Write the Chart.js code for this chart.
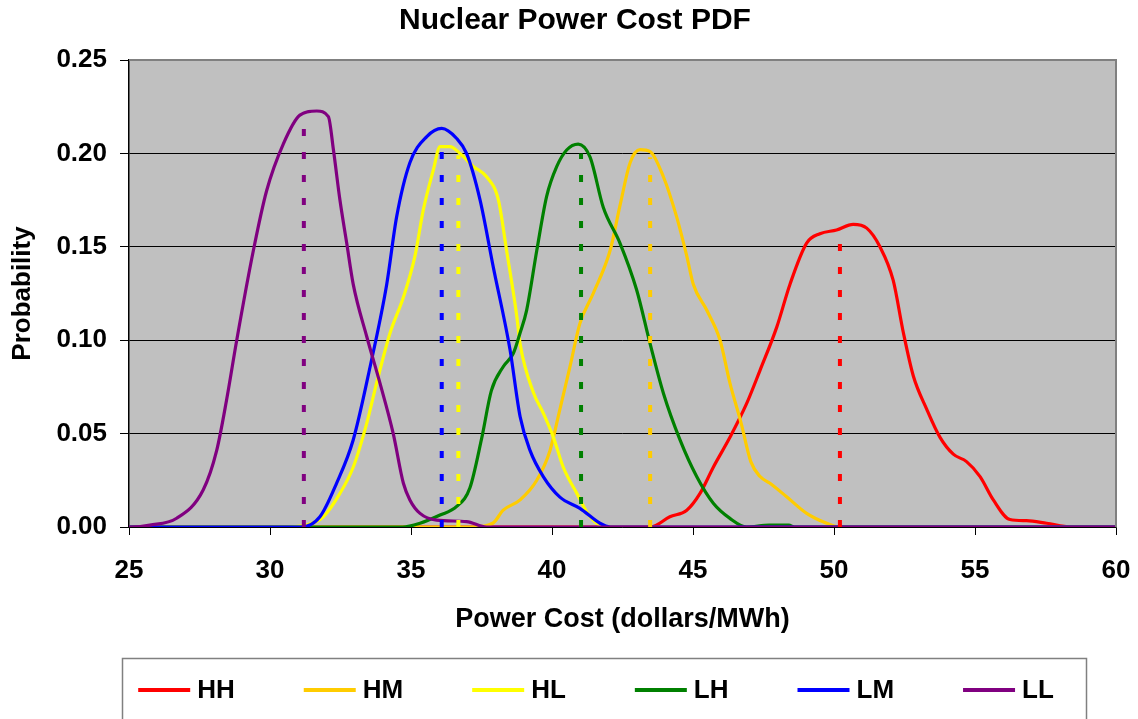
<!DOCTYPE html>
<html>
<head>
<meta charset="utf-8">
<title>Nuclear Power Cost PDF</title>
<script src="https://cdn.jsdelivr.net/npm/chart.js@4.4.1/dist/chart.umd.min.js"></script>
<style>
  html, body { margin: 0; padding: 0; background: #fff; }
  canvas { display: block; }
</style>
</head>
<body>
<canvas id="pdfChart" width="1138" height="719"></canvas>
<script>
// ------------------------------------------------------------
// data: cost ($/MWh) vs probability, one list per scenario
// ------------------------------------------------------------
var seriesNames = ['HH', 'HM', 'HL', 'LH', 'LM', 'LL'];
var seriesColors = ['#ff0000', '#ffcc00', '#ffff00', '#008000', '#0000ff', '#800080'];

var HH = [[25, 0], [43.5, 0], [44.18, 0.0055], [44.78, 0.009], [45.25, 0.018], [45.72, 0.032], [46.31, 0.048],
  [46.9, 0.066], [47.38, 0.084], [47.97, 0.107], [48.44, 0.130], [49.03, 0.152], [49.5, 0.157], [50.09, 0.159],
  [50.68, 0.162], [51.16, 0.160], [51.63, 0.150], [52.1, 0.132], [52.46, 0.104], [52.81, 0.081], [53.29, 0.063],
  [53.76, 0.048], [54.23, 0.039], [54.7, 0.035], [55.18, 0.027], [55.65, 0.0145], [56.24, 0.004], [56.83, 0.0034],
  [57.54, 0.002], [58.4, 0], [60, 0]];
var HM = [[25, 0], [37.2, 0], [37.9, 0.002], [38.27, 0.009], [38.87, 0.0145], [39.46, 0.025], [39.93, 0.041],
  [40.28, 0.063], [40.64, 0.086], [40.99, 0.109], [41.46, 0.125], [42.06, 0.148], [42.41, 0.172], [42.77, 0.195],
  [43.12, 0.202], [43.48, 0.201], [43.95, 0.1875], [44.42, 0.166], [44.78, 0.145], [45.01, 0.130], [45.49, 0.116],
  [45.96, 0.100], [46.31, 0.077], [46.7, 0.056], [47.05, 0.035], [47.38, 0.027], [47.73, 0.0234], [48.32, 0.0162],
  [49.03, 0.0073], [49.74, 0.002], [50.2, 0], [60, 0]];
var HL = [[25, 0], [30.6, 0], [31.3, 0.001], [31.89, 0.0055], [32.48, 0.018], [32.95, 0.032], [33.43, 0.0555],
  [33.78, 0.077], [34.26, 0.104], [34.73, 0.123], [35.14, 0.145], [35.44, 0.170], [35.79, 0.191], [36.03, 0.2036],
  [36.38, 0.2036], [36.74, 0.200], [37.21, 0.193], [37.68, 0.1875], [38.1, 0.175], [38.39, 0.148], [38.75, 0.113],
  [38.87, 0.098], [39.34, 0.072], [39.69, 0.061], [40.05, 0.048], [40.4, 0.032], [40.88, 0.018], [41.35, 0.0055],
  [41.94, 0], [60, 0]];
var LH = [[25, 0], [34.7, 0], [35.32, 0.002], [36.03, 0.0064], [36.62, 0.011], [37.09, 0.021], [37.5, 0.047],
  [37.85, 0.073], [38.27, 0.0858], [38.63, 0.093], [38.87, 0.104], [39.1, 0.116], [39.46, 0.148], [39.81, 0.177],
  [40.17, 0.193], [40.52, 0.2018], [40.93, 0.205], [41.35, 0.198], [41.82, 0.171], [42.41, 0.152], [43.0, 0.127],
  [43.48, 0.098], [43.95, 0.0716], [44.54, 0.0466], [45.13, 0.027], [45.72, 0.0127], [46.31, 0.0046], [46.9, 0],
  [47.7, 0.001], [48.4, 0.001], [48.6, 0], [60, 0]];
var LM = [[25, 0], [31.1, 0], [31.77, 0.0055], [32.36, 0.0234], [32.95, 0.0466], [33.55, 0.0858], [34.14, 0.130],
  [34.49, 0.166], [34.96, 0.195], [35.56, 0.209], [36.09, 0.2134], [36.62, 0.208], [36.97, 0.200], [37.45, 0.175],
  [37.92, 0.139], [38.51, 0.095], [38.87, 0.059], [39.22, 0.041], [39.69, 0.027], [40.28, 0.016], [40.99, 0.010],
  [41.7, 0.002], [42.06, 0], [60, 0]];
var LL = [[25, 0], [25.1, 0], [25.74, 0.001], [26.69, 0.0047], [27.63, 0.0198], [28.11, 0.041], [28.46, 0.068],
  [28.82, 0.100], [29.41, 0.148], [29.88, 0.180], [30.47, 0.205], [31.06, 0.2205], [31.66, 0.2227], [32.07, 0.2197],
  [32.25, 0.2018], [32.48, 0.175], [32.72, 0.152], [32.95, 0.130], [33.43, 0.102], [33.9, 0.077], [34.37, 0.050],
  [34.73, 0.0234], [34.96, 0.0145], [35.32, 0.0073], [35.91, 0.0037], [36.97, 0.0029], [37.68, 0], [60, 0]];

// mean cost of each scenario (dotted marker) and the marker height
var meanCost = [50.21, 43.48, 36.68, 41.03, 36.09, 31.2];
var meanTop = [0.154, 0.198, 0.199, 0.200, 0.205, 0.219];

var xTicks = [25, 30, 35, 40, 45, 50, 55, 60];
var yTicks = [0, 0.05, 0.10, 0.15, 0.20, 0.25];

var FONT = '"Liberation Sans", Arial, Helvetica, sans-serif';
Chart.defaults.font.family = FONT;
Chart.defaults.color = '#000';

function toPts(arr) { return arr.map(function (p) { return { x: p[0], y: p[1] }; }); }

var curves = [HH, HM, HL, LH, LM, LL];
var datasets = [];

// later series sit on top (LL drawn last)
curves.forEach(function (c, i) {
  datasets.push({
    label: seriesNames[i],
    data: toPts(c),
    borderColor: seriesColors[i],
    backgroundColor: seriesColors[i],
    borderWidth: 3.2,
    pointRadius: 0,
    cubicInterpolationMode: 'monotone',
    borderJoinStyle: 'round',
    fill: false,
    order: 10 - i
  });
});

// dotted mean markers
meanCost.forEach(function (m, i) {
  datasets.push({
    label: seriesNames[i] + ' mean',
    data: [{ x: m, y: 0 }, { x: m, y: meanTop[i] }],
    borderColor: seriesColors[i],
    borderWidth: 4,
    borderDash: [7, 16],
    borderCapStyle: 'butt',
    pointRadius: 0,
    fill: false,
    order: 1
  });
});

// grey plot background + grey frame on top / right
var plotFrame = {
  id: 'plotFrame',
  beforeDraw: function (chart) {
    var ctx = chart.ctx, a = chart.chartArea;
    ctx.save();
    ctx.fillStyle = '#fff';
    ctx.fillRect(0, 0, chart.width, chart.height);
    ctx.fillStyle = '#c0c0c0';
    ctx.fillRect(a.left, a.top, a.right - a.left, a.bottom - a.top);
    ctx.restore();
  },
  afterDatasetsDraw: function (chart) {
    var ctx = chart.ctx, a = chart.chartArea;
    ctx.save();
    ctx.strokeStyle = '#808080';
    ctx.lineWidth = 2;
    ctx.beginPath();
    ctx.moveTo(a.left, a.top);
    ctx.lineTo(a.right, a.top);
    ctx.lineTo(a.right, a.bottom);
    ctx.stroke();
    ctx.restore();
  }
};

// boxed legend row under the axis title
var boxLegend = {
  id: 'boxLegend',
  afterDraw: function (chart) {
    var ctx = chart.ctx;
    var lineLen = 52, gap = 7, spacing = 69, cy = 690, cx = 596;
    ctx.save();
    ctx.strokeStyle = '#808080';
    ctx.lineWidth = 1.5;
    ctx.strokeRect(122.5, 658.5, 964, 80);

    ctx.font = 'bold 26px ' + FONT;
    ctx.textBaseline = 'middle';
    ctx.textAlign = 'left';
    var widths = seriesNames.map(function (n) { return ctx.measureText(n).width; });
    var total = 0;
    widths.forEach(function (w, i) { total += lineLen + gap + w + (i < widths.length - 1 ? spacing : 0); });
    var x = cx - total / 2;
    seriesNames.forEach(function (n, i) {
      ctx.strokeStyle = seriesColors[i];
      ctx.lineWidth = 4;
      ctx.beginPath();
      ctx.moveTo(x, cy);
      ctx.lineTo(x + lineLen, cy);
      ctx.stroke();
      ctx.fillStyle = '#000';
      ctx.fillText(n, x + lineLen + gap, cy + 1);
      x += lineLen + gap + widths[i] + spacing;
    });
    ctx.restore();
  }
};

new Chart(document.getElementById('pdfChart'), {
  type: 'line',
  data: { datasets: datasets },
  plugins: [plotFrame, boxLegend],
  options: {
    responsive: false,
    animation: false,
    layout: { padding: { left: 12, right: 0, top: 0, bottom: 79 } },
    plugins: {
      legend: { display: false },
      tooltip: { enabled: false },
      title: {
        display: true,
        text: 'Nuclear Power Cost PDF',
        font: { size: 30, weight: 'bold' },
        padding: { top: 3, bottom: 21 }
      }
    },
    scales: {
      x: {
        type: 'linear',
        min: 25, max: 60,
        afterBuildTicks: function (s) { s.ticks = xTicks.map(function (v) { return { value: v }; }); },
        afterFit: function (s) { s.height = 113; },
        grid: { drawOnChartArea: false, drawTicks: true, tickLength: 8, tickColor: '#000' },
        border: { color: '#000', width: 1.5 },
        // tall line box keeps the labels low without widening the right padding
        ticks: { font: { size: 26, weight: 'bold', lineHeight: 2.28 }, padding: 6, maxRotation: 0 },
        title: {
          display: true,
          text: 'Power Cost (dollars/MWh)',
          font: { size: 27, weight: 'bold' },
          padding: { top: 0, bottom: 4 }
        }
      },
      y: {
        min: 0, max: 0.25,
        afterBuildTicks: function (s) { s.ticks = yTicks.map(function (v) { return { value: v }; }); },
        afterFit: function (s) { s.width = 117; },
        grid: { color: '#000', lineWidth: 1, tickLength: 9, tickColor: '#000' },
        border: { color: '#000', width: 1.5 },
        ticks: {
          font: { size: 26, weight: 'bold' },
          padding: 13,
          callback: function (v) { return v.toFixed(2); }
        },
        title: {
          display: true,
          text: 'Probability',
          font: { size: 26, weight: 'bold', lineHeight: 0.8 },
          padding: { top: 0, bottom: 0 }
        }
      },
      yRight: {
        position: 'right',
        display: true,
        min: 0, max: 0.25,
        afterFit: function (s) { s.width = 22; },
        grid: { display: false, drawTicks: false },
        border: { display: false },
        ticks: { display: false }
      }
    }
  }
});
</script>
</body>
</html>
